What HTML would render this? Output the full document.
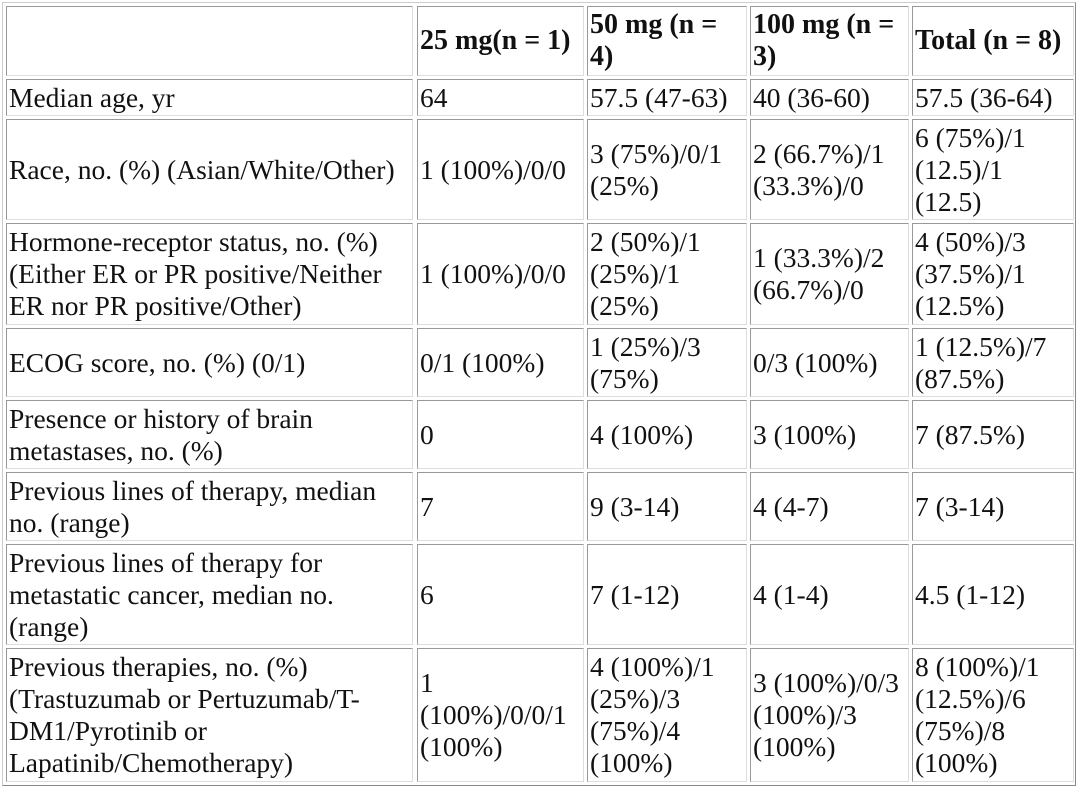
<!DOCTYPE html>
<html><head><meta charset="utf-8"><style>
html,body{margin:0;padding:0;background:#fff;width:1080px;height:792px;overflow:hidden}
.t{position:absolute;left:2px;top:2px;width:1074px;height:784px;box-sizing:border-box;border:1px solid;border-color:#ccc #888 #888 #ccc}
.c{position:absolute;box-sizing:border-box;border:1px solid;border-color:#999 #ddd #ddd #999;display:flex;align-items:center;padding:0 2px;font-family:"Liberation Serif",serif;font-size:27.5px;line-height:32px;color:#111;white-space:nowrap}
.c div{white-space:pre}
.h{font-weight:bold;font-size:28px}
</style></head><body>
<div class="t"></div>
<div id="g"></div>
<script>
var cols=[[6,413],[417,584],[587,747],[750,909],[912,1074]];
var rows=[[6,76],[79,116],[119,220],[223,325],[328,397],[400,469],[472,541],[544,645],[648,782]];
var d=[
["","25 mg(n = 1)","50 mg (n =\n4)","100 mg (n =\n3)","Total (n = 8)"],
["Median age, yr","64","57.5 (47-63)","40 (36-60)","57.5 (36-64)"],
["Race, no. (%) (Asian/White/Other)","1 (100%)/0/0","3 (75%)/0/1\n(25%)","2 (66.7%)/1\n(33.3%)/0","6 (75%)/1\n(12.5)/1\n(12.5)"],
["Hormone-receptor status, no. (%)\n(Either ER or PR positive/Neither\nER nor PR positive/Other)","1 (100%)/0/0","2 (50%)/1\n(25%)/1\n(25%)","1 (33.3%)/2\n(66.7%)/0","4 (50%)/3\n(37.5%)/1\n(12.5%)"],
["ECOG score, no. (%) (0/1)","0/1 (100%)","1 (25%)/3\n(75%)","0/3 (100%)","1 (12.5%)/7\n(87.5%)"],
["Presence or history of brain\nmetastases, no. (%)","0","4 (100%)","3 (100%)","7 (87.5%)"],
["Previous lines of therapy, median\nno. (range)","7","9 (3-14)","4 (4-7)","7 (3-14)"],
["Previous lines of therapy for\nmetastatic cancer, median no.\n(range)","6","7 (1-12)","4 (1-4)","4.5 (1-12)"],
["Previous therapies, no. (%)\n(Trastuzumab or Pertuzumab/T-\nDM1/Pyrotinib or\nLapatinib/Chemotherapy)","1\n(100%)/0/0/1\n(100%)","4 (100%)/1\n(25%)/3\n(75%)/4\n(100%)","3 (100%)/0/3\n(100%)/3\n(100%)","8 (100%)/1\n(12.5%)/6\n(75%)/8\n(100%)"]
];
var h="";
for(var r=0;r<rows.length;r++)for(var c=0;c<5;c++){
var t=d[r][c].replace(/&/g,"&amp;").replace(/</g,"&lt;");
h+='<div class="c'+(r==0?' h':'')+'" style="left:'+cols[c][0]+'px;top:'+rows[r][0]+'px;width:'+(cols[c][1]-cols[c][0])+'px;height:'+(rows[r][1]-rows[r][0])+'px"><div>'+t+'</div></div>';}
document.getElementById("g").innerHTML=h;
</script>
</body></html>
